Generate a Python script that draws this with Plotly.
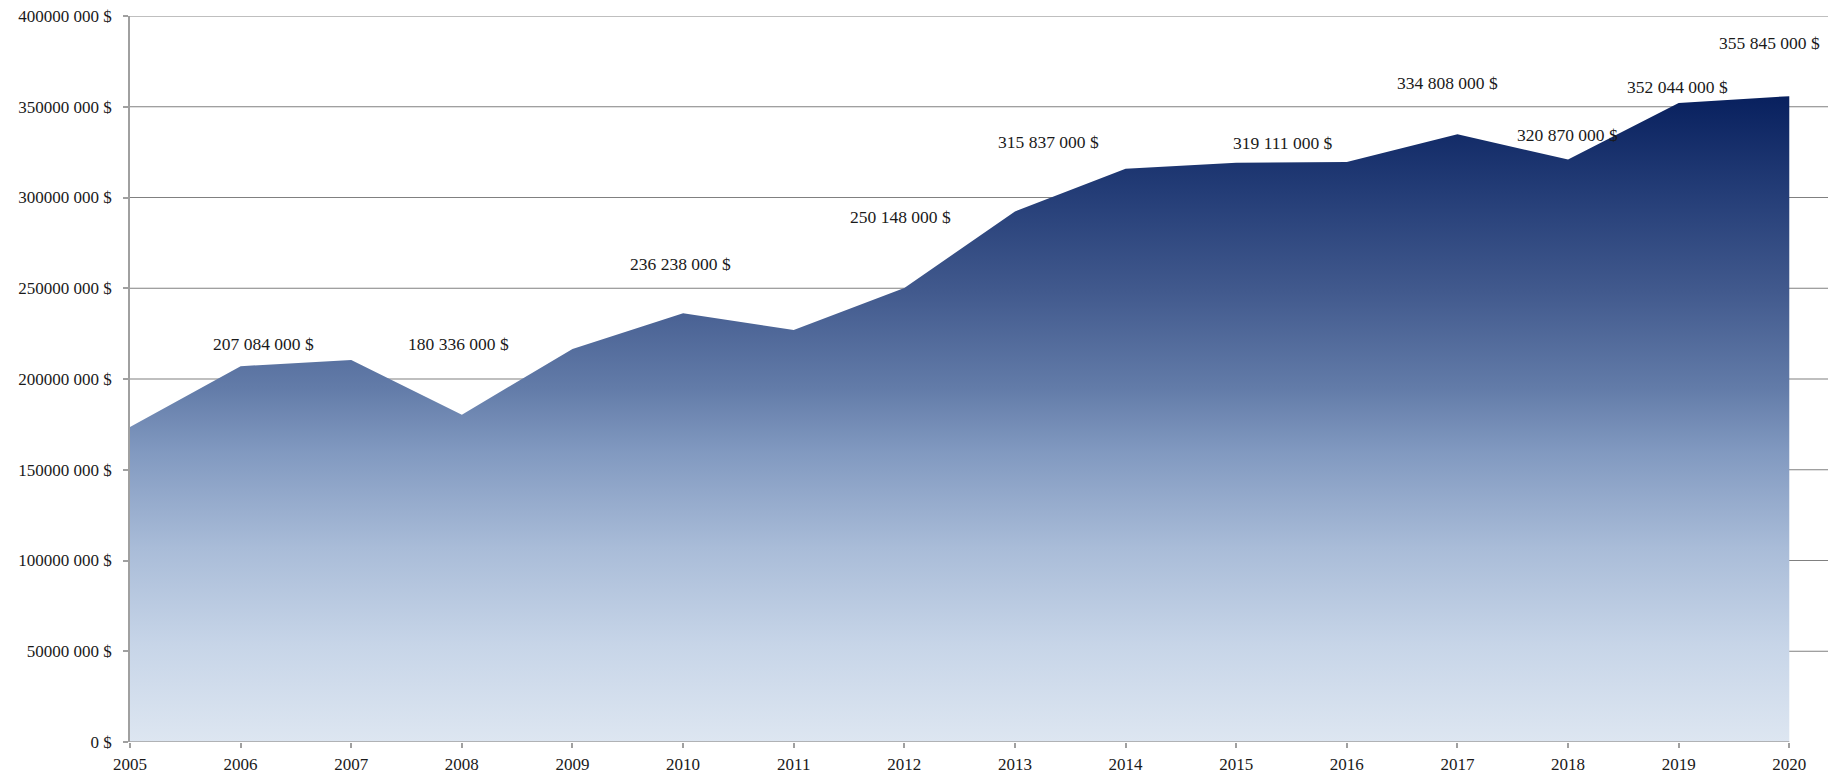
import plotly.graph_objects as go

# ---- data ----
YEARS = list(range(2005, 2021))
VALUES = [
    173500000, 207084000, 210500000, 180336000, 216500000, 236238000,
    227000000, 250148000, 292300000, 315837000, 319111000, 319600000,
    334808000, 320870000, 352044000, 355845000,
]
LABELED_YEARS = [2006, 2008, 2010, 2012, 2014, 2015, 2017, 2018, 2019, 2020]
# label offsets in pixels (dx, dy upward) relative to each labelled point
LABEL_SHIFTS = [(23, 22), (-3, 71), (-3, 49), (-4, 71), (-77, 27),
                (47, 20), (-10, 51), (-1, 25), (-1, 16), (-20, 53)]
Y_TICKS = [0, 50000000, 100000000, 150000000, 200000000,
           250000000, 300000000, 350000000, 400000000]
Y_TICK_TEXT = ["0 $", "50000 000 $", "100000 000 $", "150000 000 $", "200000 000 $",
               "250000 000 $", "300000 000 $", "350000 000 $", "400000 000 $"]

FONT = "Liberation Serif, Times New Roman, serif"
TEXT_COLOR = "#1a1a1a"
GRID_COLOR = "#808080"
AXIS_COLOR = "#a0a0a0"


def fmt(v):
    return f"{v:,.0f}".replace(",", " ") + " $"


fig = go.Figure()
fig.add_trace(go.Scatter(
    x=YEARS, y=VALUES, mode="lines",
    line=dict(width=0, color="#0a2260"),
    fill="tozeroy",
    fillgradient=dict(
        type="vertical",
        start=0, stop=max(VALUES),
        colorscale=[[0.0, "#dde6f1"], [0.15, "#c7d5e8"], [0.3, "#a9bcd8"],
                    [0.45, "#8199c0"], [0.55, "#627ba8"], [0.7, "#41598d"],
                    [0.85, "#243d77"], [1.0, "#08205e"]],
    ),
    hoverinfo="x+y",
    showlegend=False,
))

# horizontal grid lines (all but the base line), spanning the full plot width
for v in Y_TICKS[1:]:
    fig.add_hline(y=v, line=dict(color=GRID_COLOR, width=1.2), layer="below")

# x axis base line from first to last year
fig.add_shape(type="line", x0=YEARS[0], x1=YEARS[-1], y0=0, y1=0,
              xref="x", yref="y", line=dict(color=AXIS_COLOR, width=1.5), layer="above")

for yr, (dx, dy) in zip(LABELED_YEARS, LABEL_SHIFTS):
    v = VALUES[YEARS.index(yr)]
    fig.add_annotation(x=yr, y=v, text=fmt(v), showarrow=False,
                       xshift=dx, yshift=dy,
                       font=dict(family=FONT, size=17.5, color=TEXT_COLOR))

fig.update_layout(
    width=1832, height=775,
    margin=dict(l=130, r=4, t=16, b=33),
    paper_bgcolor="white", plot_bgcolor="white",
    font=dict(family=FONT, size=17, color=TEXT_COLOR),
    xaxis=dict(
        range=[YEARS[0], YEARS[-1] + 0.35],
        tickvals=YEARS, ticktext=[str(y) for y in YEARS],
        showgrid=False, zeroline=False, showline=False,
        ticks="outside", ticklen=5, tickcolor=AXIS_COLOR, tickwidth=1.5,
        ticklabelstandoff=2, automargin=False,
    ),
    yaxis=dict(
        range=[0, 400000000],
        tickvals=Y_TICKS, ticktext=Y_TICK_TEXT,
        showgrid=False, zeroline=False,
        showline=True, linecolor=AXIS_COLOR, linewidth=1.5,
        ticks="outside", ticklen=5, tickcolor=AXIS_COLOR, tickwidth=1.5,
        ticklabelstandoff=8, automargin=False,
    ),
)

fig.write_html(
    "out.html",
    config={"displayModeBar": False},
    post_script="document.body.style.margin='0';document.body.style.overflow='hidden';",
)
